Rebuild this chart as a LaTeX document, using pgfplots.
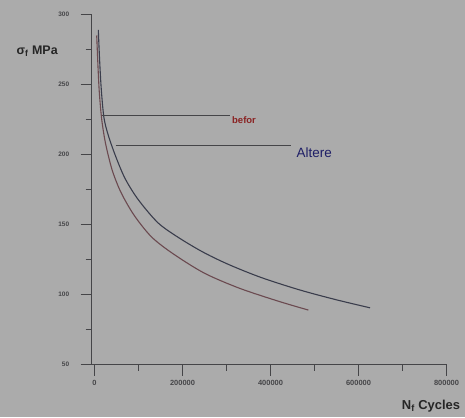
\documentclass[border=0pt]{standalone}
\usepackage{pgfplots}
\pgfplotsset{compat=1.18}
\usepackage{fontspec}
\setmainfont{Liberation Sans}

\definecolor{bg}{HTML}{ABABAB}
\definecolor{axcol}{HTML}{454548}
\definecolor{aftercol}{HTML}{3A3D4C}
\definecolor{beforcol}{HTML}{6B4A50}
\definecolor{befortxt}{HTML}{8A2222}
\definecolor{altertxt}{HTML}{1E1E66}

\begin{document}
\begin{tikzpicture}[x=1bp,y=1bp]
\useasboundingbox (0,0) rectangle (465,417);
\fill[bg] (0,0) rectangle (465,417);
\begin{axis}[
  at={(91.7bp,52.5bp)}, anchor=south west,
  scale only axis, width=354.8bp, height=350bp,
  xmin=-6400, xmax=800000, ymin=50, ymax=300,
  axis lines*=left,
  axis line style={draw=axcol, line width=1.2bp},
  every tick/.style={draw=axcol, line width=1bp},
  tick align=outside,
  major tick length=11bp, minor tick length=6bp,
  scaled x ticks=false,
  xtick={0,200000,400000,600000,800000},
  xticklabels={0,200000,400000,600000,800000},
  minor xtick={100000,300000,500000,700000},
  ytick={50,100,150,200,250,300},
  yticklabels={50,100,150,200,250,300},
  minor ytick={75,125,175,225,275},
  /pgf/number format/assume math mode=true,
  xticklabel style={font=\fontsize{7.5}{8}\selectfont\bfseries, text=axcol, yshift=-1bp},
  yticklabel style={font=\fontsize{6.5}{7}\selectfont\bfseries, text=axcol, xshift=-8bp},
  clip=false,
]
% after (upper curve)
\addplot[aftercol, line width=1.1bp, smooth] coordinates {
  (8600,289) (11500,268) (15500,246) (21600,226) (32000,213) (48900,198)
  (70000,182.5) (100000,167.5) (145000,151) (194300,140) (250000,129.7)
  (308000,121) (380000,112) (467000,103.2) (550000,96.2) (626100,90.5)
};
% befor (lower curve)
\addplot[beforcol, line width=1.1bp, smooth] coordinates {
  (5000,285) (8000,262) (11000,244) (16400,225) (25000,208) (40000,189)
  (60000,173) (90000,156.6) (130000,141) (180000,128.8) (250000,115.2)
  (330000,104.4) (420000,95) (486000,88.9)
};
% label leader lines
\addplot[axcol, line width=1bp] coordinates {(16400,228) (308000,228)};
\addplot[axcol, line width=1bp] coordinates {(48200,206.7) (446600,206.7)};
\end{axis}
\node[anchor=base west, inner sep=0, text=befortxt, font=\fontsize{9.5}{10}\selectfont\bfseries] at (232,293.7) {befor};
\node[anchor=base west, inner sep=0, text=altertxt, font=\fontsize{13.5}{14}\selectfont] at (296.5,259.7) {Altere};
\node[anchor=base west, inner sep=0, text=black!85, font=\fontsize{12.5}{13}\selectfont\bfseries] at (16.5,363) {σ\textsubscript{f} MPa};
\node[anchor=base west, inner sep=0, text=black!85, font=\fontsize{13}{14}\selectfont\bfseries] at (401.7,7.7) {N\textsubscript{f} Cycles};
\end{tikzpicture}
\end{document}
